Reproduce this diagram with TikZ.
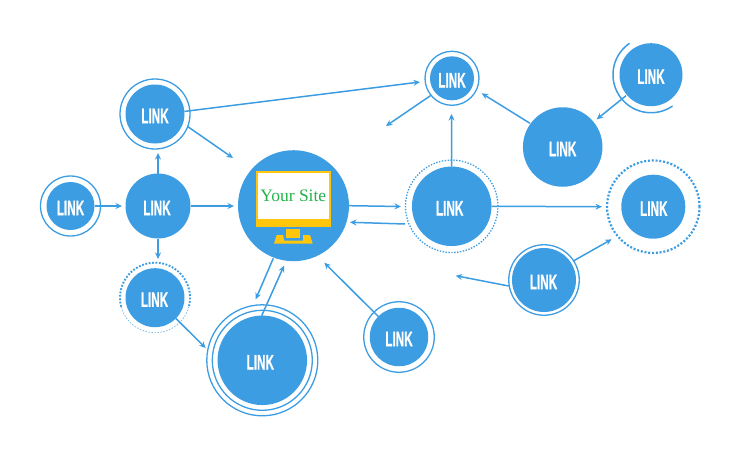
\documentclass[tikz,border=0pt]{standalone}
\usepackage{fontspec}
\usetikzlibrary{arrows.meta}
\setmainfont{Liberation Serif}
\newfontfamily\linkfont[FakeStretch=0.56,FakeBold=0.5]{Liberation Sans}
\definecolor{linkblue}{HTML}{3D9DE2}
\definecolor{monitoryellow}{HTML}{FFC60B}
\definecolor{sitegreen}{HTML}{25B34B}
\newcommand{\linktext}[1][0pt]{\raisebox{-9.2pt}[0pt][0pt]{\makebox[0pt]{\hspace*{#1}LINK}}}
\tikzset{
  x=1pt,y=-1pt,
  linkdisc/.style={circle,fill=linkblue,inner sep=0pt,outer sep=0pt,minimum size=#1,text=white,font=\linkfont\bfseries\fontsize{21}{21}\selectfont},
  ringline/.style={circle,draw=linkblue,line width=1.3pt,inner sep=0pt,outer sep=0pt,minimum size=#1},
  finedots/.style={circle,draw=linkblue,line width=1.3pt,dash pattern=on 1.4pt off 1.5pt,inner sep=0pt,outer sep=0pt,minimum size=#1},
  thickdots/.style={circle,draw=linkblue,line width=2.2pt,dash pattern=on 2pt off 1.8pt,inner sep=0pt,outer sep=0pt,minimum size=#1},
  linkarrow/.style={draw=linkblue,line width=1.5pt,-{Stealth[length=6.5pt,width=6pt]}},
  monitorpart/.style={fill=monitoryellow,draw=none}
}
\begin{document}
\begin{tikzpicture}
\useasboundingbox (0,0) rectangle (750,450);
% rings
\node[ringline=60pt] (Ar) at (70.5,206) {};
\node[ringline=70pt] (Cr) at (155,114) {};
\node[ringline=54pt] (Er) at (452,78.3) {};
\node[ringline=100pt] (Hr1) at (262.3,360.3) {};
\node[ringline=111pt] (Hr2) at (262.3,360.3) {};
\node[ringline=70.5pt] (Ir) at (399,337) {};
\node[ringline=70.5pt] (Lr) at (544,280) {};
\node[finedots=92.5pt] (Jr) at (451.7,206.3) {};
\node[thickdots=92.5pt] (Kr) at (653.3,206.7) {};
% partly drawn rings
\draw[linkblue,line width=1.5pt,line cap=round,domain=56:235,samples=90,smooth]
  plot ({651+38*cos(\x)},{74.7+38*sin(\x)});
\draw[linkblue,line width=1.9pt,dash pattern=on 1.8pt off 1.6pt,domain=165:375,samples=90,smooth]
  plot ({155+35*cos(\x)},{297.7+35*sin(\x)});
\draw[linkblue!65,line width=.8pt,dash pattern=on 1.5pt off 1.5pt,domain=15:165,samples=90,smooth]
  plot ({155+35*cos(\x)},{297.7+35*sin(\x)});
% discs
\node[linkdisc=48pt] (A) at (70.5,206) {\linktext};
\node[linkdisc=65pt] (B) at (158,206) {\linktext[-2pt]};
\node[linkdisc=59pt] (C) at (155,114) {\linktext};
\node[linkdisc=59pt] (D) at (155,297.7) {\linktext[-1pt]};
\node[linkdisc=44pt] (E) at (452,78.3) {\linktext};
\node[linkdisc=79.5pt] (F) at (562.7,147) {\linktext};
\node[linkdisc=63pt] (G) at (651,74.7) {\linktext};
\node[linkdisc=89.5pt] (H) at (262.3,360.3) {\linktext[-4pt]};
\node[linkdisc=58.5pt] (I) at (399,337) {\linktext};
\node[linkdisc=79.5pt] (J) at (451.7,206.3) {\linktext[-4pt]};
\node[linkdisc=64pt] (K) at (653.3,206.7) {\linktext[1pt]};
\node[linkdisc=64pt] (L) at (544,280) {\linktext[-1pt]};
\node[circle,fill=linkblue,inner sep=0pt,outer sep=0pt,minimum size=111pt] (main) at (293.5,205.7) {};
% monitor
\fill[monitorpart] (256,171.3) rectangle (330.7,227.3);
\fill[monitorpart] (286,229) rectangle (300,238);
\fill[monitorpart] (274,243.7) -- (276.7,235) -- (283.3,235) -- (284,240.5) -- (303,240.5) -- (303,235) -- (310,235) -- (312.7,243.7) -- cycle;
\node[fill=white,inner sep=0pt,outer sep=0pt,minimum width=70.7pt,minimum height=45.7pt,text=sitegreen,font=\fontsize{17.5}{17.5}\selectfont] (screen) at (293.35,196.15) {Your Site};
% free ends of connectors
\coordinate (bc) at (158,153);
\coordinate (bd) at (158,259);
\coordinate (cfree) at (233,158);
\coordinate (ce) at (420,82);
\coordinate (efree) at (386,126);
\coordinate (dh) at (205.7,348);
\coordinate (mhs) at (273.3,258.3);
\coordinate (mh) at (255.7,299.3);
\coordinate (hms) at (261.7,315.7);
\coordinate (hm) at (284,265.7);
\coordinate (im) at (324.3,262.7);
\coordinate (jm) at (350,222.3);
\coordinate (jms) at (405,224);
\coordinate (mj) at (401,206.5);
\coordinate (je) at (451.5,114);
\coordinate (fe) at (481.7,93.3);
\coordinate (fes) at (530,123.3);
\coordinate (gf) at (596.7,119.3);
\coordinate (gfs) at (626,95.7);
\coordinate (jk) at (602,206.7);
\coordinate (lk) at (611.7,239.3);
\coordinate (lks) at (573.3,261);
\coordinate (lfree) at (455.7,275.7);
\coordinate (lfs) at (508.7,286);
\coordinate (ab) at (122,206);
\coordinate (bm) at (234,206);
% connectors
\draw[linkarrow] (A.east) -- (ab);
\draw[linkarrow] (B.east) -- (bm);
\draw[linkarrow] (B) -- (bc);
\draw[linkarrow] (B) -- (bd);
\draw[linkarrow] (Cr.-21.5) -- (cfree);
\draw[linkarrow] (C.5) -- (ce);
\draw[linkarrow] (Er.219) -- (efree);
\draw[linkarrow] (D) -- (dh);
\draw[linkarrow] (mhs) -- (mh);
\draw[linkarrow] (hms) -- (hm);
\draw[linkarrow] (I) -- (im);
\draw[linkarrow] (main.east) -- (mj);
\draw[linkarrow] (jms) -- (jm);
\draw[linkarrow] (J) -- (je);
\draw[linkarrow] (fes) -- (fe);
\draw[linkarrow] (gfs) -- (gf);
\draw[linkarrow] (J.east) -- (jk);
\draw[linkarrow] (lks) -- (lk);
\draw[linkarrow] (lfs) -- (lfree);
\end{tikzpicture}
\end{document}
